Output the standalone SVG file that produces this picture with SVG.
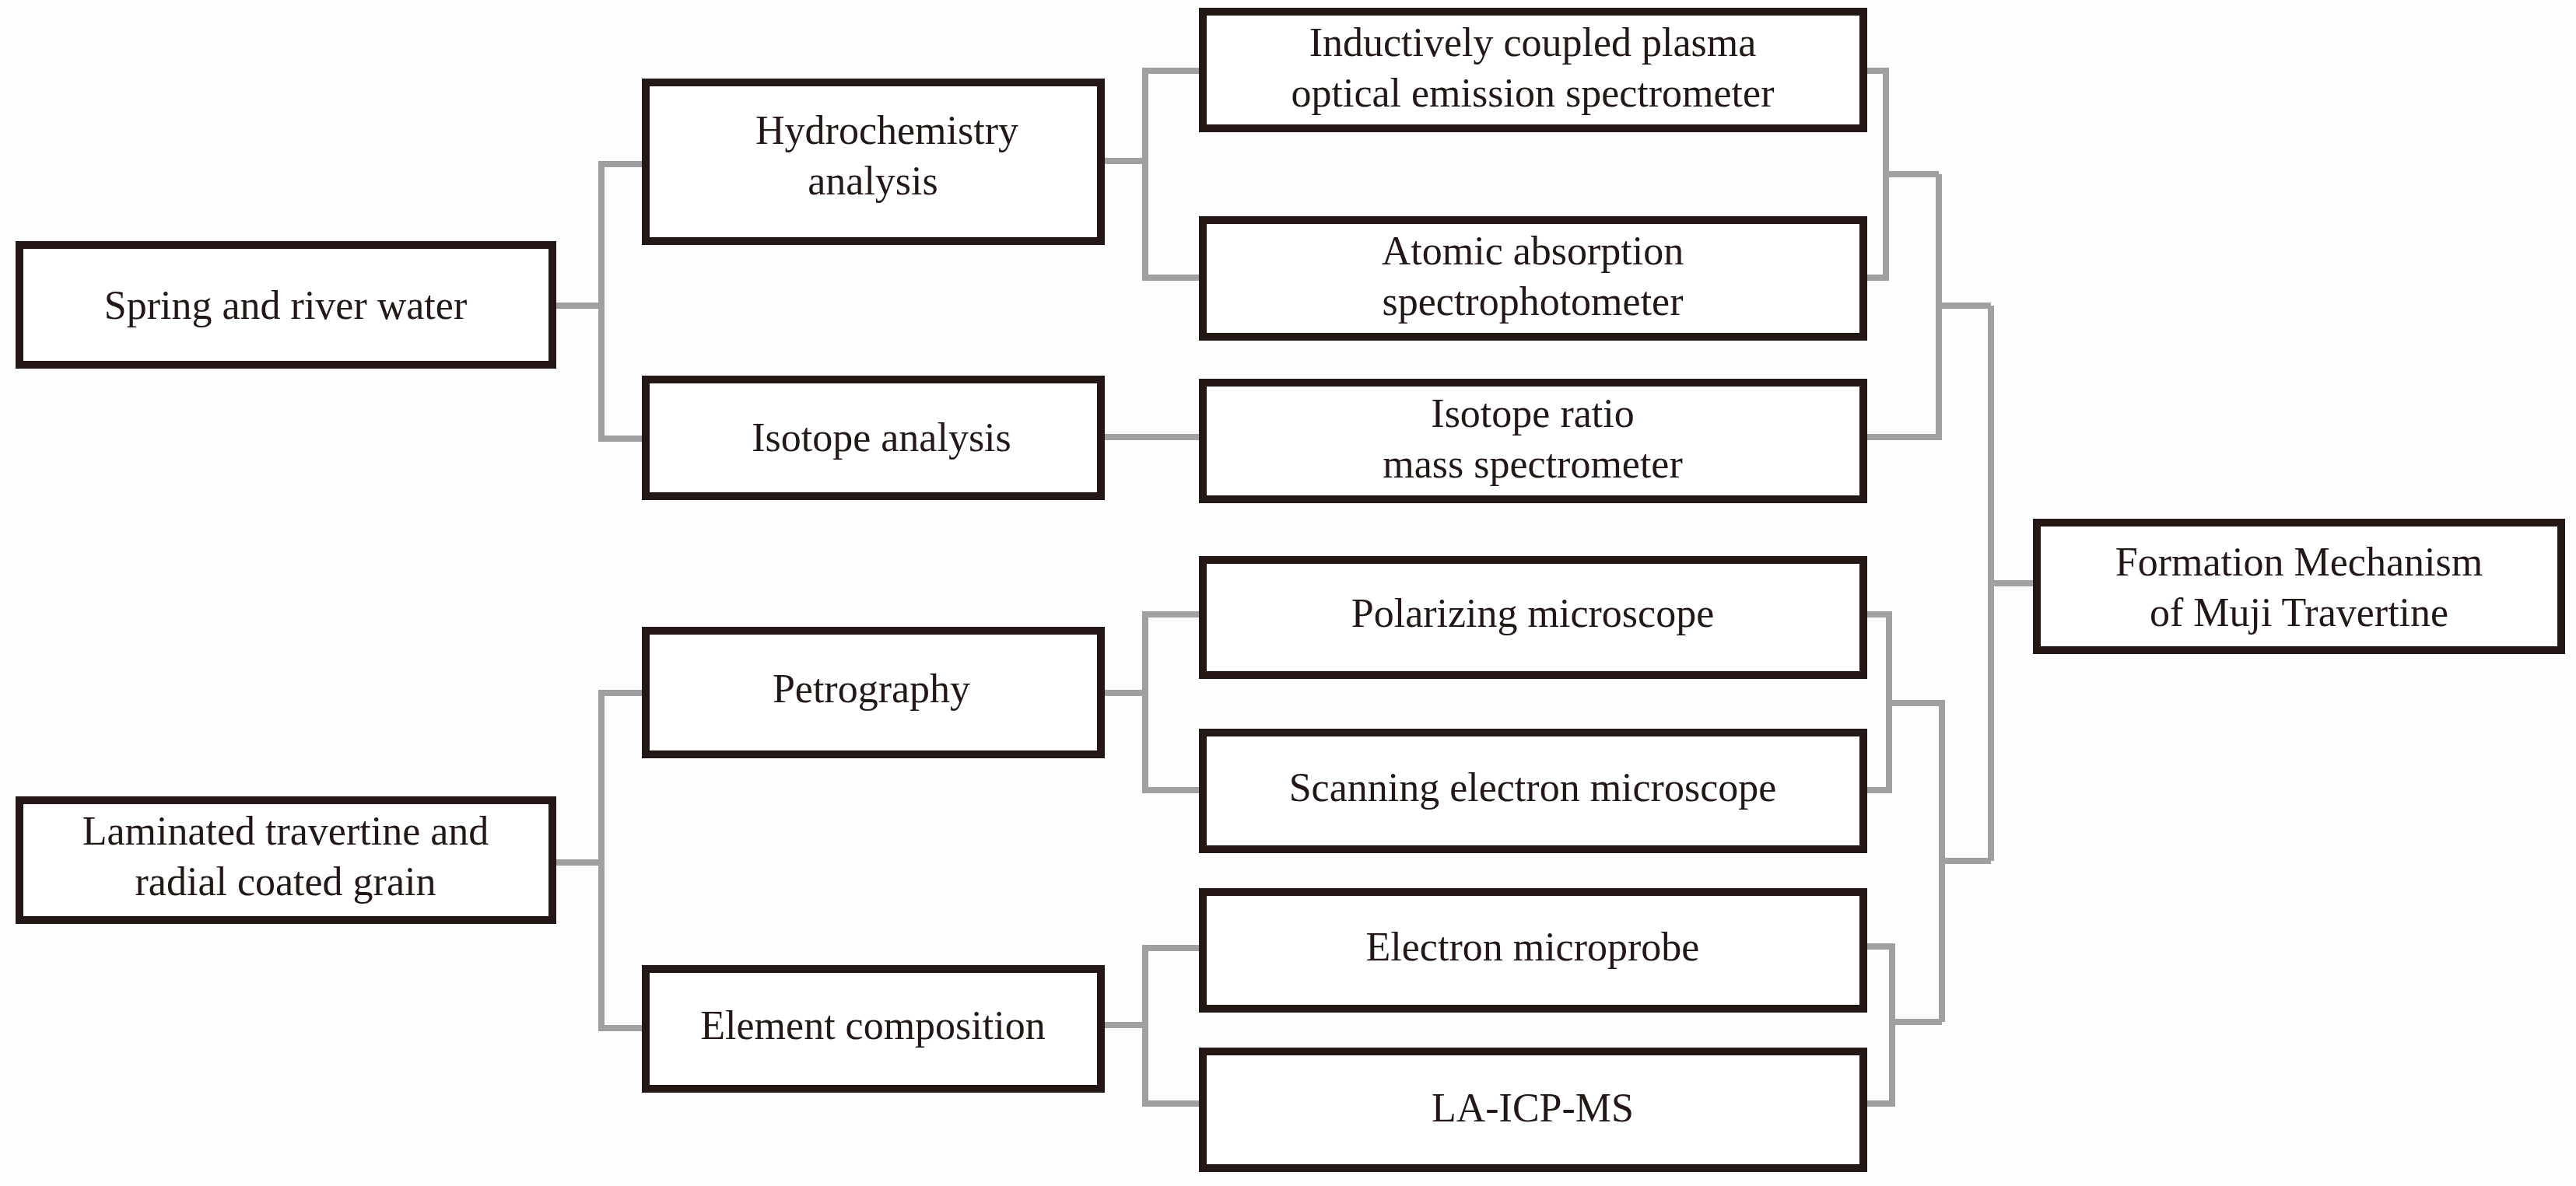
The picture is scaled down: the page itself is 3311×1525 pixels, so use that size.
<svg xmlns="http://www.w3.org/2000/svg" width="3311" height="1525" viewBox="0 0 3311 1525">
<style>
.b{fill:#fff;stroke:#231815;stroke-width:10}
.t{font-family:"Liberation Serif",serif;font-size:52px;fill:#231815;text-anchor:middle}
#conn path{fill:none;stroke:#a0a0a0;stroke-width:8}
</style>
<rect width="3311" height="1525" fill="#fdfdfd"/>
<g id="conn">
<path d="M710 393H773M830 211H773V564H830"/>
<path d="M1415 207H1472M1546 91H1472V357H1546"/>
<path d="M1415 562H1546"/>
<path d="M2395 91H2424V357H2395M2424 224H2492M2395 562H2492V224M2492 393H2559M2559 393V1107M2559 750H2618"/>
<path d="M2395 790H2428V1016H2395M2428 904H2496V1314M2496 1107H2559M2395 1217H2432V1419H2395M2432 1314H2496"/>
<path d="M1415 891H1472M1546 790H1472V1016H1546M1415 1318H1472M1546 1219H1472V1419H1546"/>
<path d="M710 1109H773M830 891H773V1322H830"/>
</g>
<g id="spring"><rect class="b" x="25" y="315" width="685" height="154"/><text class="t" x="367" y="410">Spring and river water</text></g>
<g id="hydro"><rect class="b" x="830" y="106" width="585" height="204"/><text class="t" x="1140" y="185">Hydrochemistry</text><text class="t" x="1122" y="250">analysis</text></g>
<g id="isotope"><rect class="b" x="830" y="488" width="585" height="150"/><text class="t" x="1133" y="580">Isotope analysis</text></g>
<g id="icp"><rect class="b" x="1546" y="15" width="849" height="150"/><text class="t" x="1970" y="72">Inductively coupled plasma</text><text class="t" x="1970" y="137">optical emission spectrometer</text></g>
<g id="aas"><rect class="b" x="1546" y="283" width="849" height="150"/><text class="t" x="1970" y="340">Atomic absorption</text><text class="t" x="1970" y="405">spectrophotometer</text></g>
<g id="irms"><rect class="b" x="1546" y="492" width="849" height="150"/><text class="t" x="1970" y="549">Isotope ratio</text><text class="t" x="1970" y="614">mass spectrometer</text></g>
<g id="formation"><rect class="b" x="2618" y="672" width="674" height="164"/><text class="t" x="2955" y="740">Formation Mechanism</text><text class="t" x="2955" y="805">of Muji Travertine</text></g>
<g id="polar"><rect class="b" x="1546" y="720" width="849" height="148"/><text class="t" x="1970" y="806">Polarizing microscope</text></g>
<g id="sem"><rect class="b" x="1546" y="942" width="849" height="150"/><text class="t" x="1970" y="1030">Scanning electron microscope</text></g>
<g id="emp"><rect class="b" x="1546" y="1147" width="849" height="150"/><text class="t" x="1970" y="1235">Electron microprobe</text></g>
<g id="la"><rect class="b" x="1546" y="1352" width="849" height="150"/><text class="t" x="1970" y="1442">LA-ICP-MS</text></g>
<g id="laminated"><rect class="b" x="25" y="1029" width="685" height="154"/><text class="t" x="367" y="1086">Laminated travertine and</text><text class="t" x="367" y="1151">radial coated grain</text></g>
<g id="petro"><rect class="b" x="830" y="811" width="585" height="159"/><text class="t" x="1120" y="903">Petrography</text></g>
<g id="element"><rect class="b" x="830" y="1246" width="585" height="154"/><text class="t" x="1122" y="1336">Element composition</text></g>
</svg>
